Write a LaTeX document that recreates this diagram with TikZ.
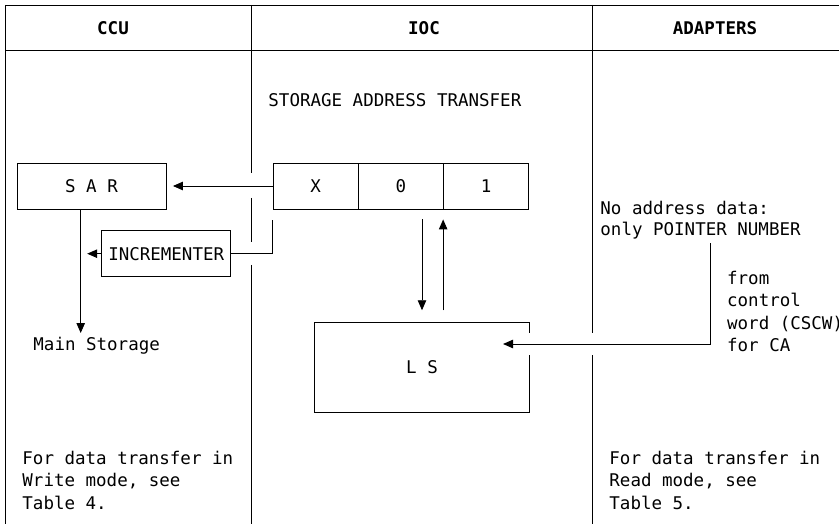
\documentclass[tikz,border=0pt]{standalone}
\usepackage{fontspec}
\setmonofont{DejaVu Sans Mono}
\usetikzlibrary{arrows.meta,calc,positioning}

\tikzset{
  box/.style={draw, inner sep=0pt, minimum height=46pt},
  cell/.style={box, minimum width=85.3pt},
  hdr/.style={font=\ttfamily\bfseries\fontsize{17.5}{21}\selectfont, inner sep=0pt},
  txt/.style={inner sep=0pt, align=left, anchor=west},
  flow/.style={-{Triangle[length=10pt,width=8.5pt]}}
}

\begin{document}
\begin{tikzpicture}
  [x=1pt, y=-1pt, line width=0.9pt,
  font=\ttfamily\fontsize{17.5}{22.5}\selectfont]
  \useasboundingbox (0,0) rectangle (839,524);

  % frame of the table
  \draw (5,5) -- (839,5) (5,50) -- (839,50) (5,5) -- (5,524);
  \draw (251.7,5) -- (251.7,173) (251.7,198) -- (251.7,242) (251.7,265) -- (251.7,524);
  \draw (592.7,5) -- (592.7,333) (592.7,355) -- (592.7,524);

  \node[hdr] (hccu) at (113,28) {CCU};
  \node[hdr] (hioc) at (424,28) {IOC};
  \node[hdr] (hadp) at (715,28) {ADAPTERS};

  \node[txt] (sat) at (268,100) {STORAGE ADDRESS TRANSFER};

  \node[box, minimum width=149pt] (sar) at (91.5,186) {S A R};
  \node[cell] (regx) at (315.65,186) {X};
  \node[cell] (rego) at (400.95,186) {0};
  \node[cell] (regi) at (486.25,186) {1};
  \node[box, minimum width=128.6pt] (incr) at (166.2,253.7) {INCREMENTER};
  \node[inner sep=0pt, minimum width=214pt, minimum height=89pt] (ls) at (422,367.2) {L S};
  \draw ($(ls.north east)+(0,10.3)$) -- (ls.north east) -- (ls.north west)
    -- (ls.south west) -- (ls.south east) -- ($(ls.east)+(0,-12.2)$);

  \node[txt] (ms) at (33,345.5) {Main Storage};
  \node[txt] (noaddr) at (600,220.5) {No address data:\\[-1.5pt]only POINTER NUMBER};
  \node[txt] (from) at (726.7,311.5) {from\\control\\word (CSCW)\\for CA};
  \node[txt] (wnote) at (22,480) {For data transfer in\\Write mode, see\\Table 4.};
  \node[txt] (rnote) at (609,480) {For data transfer in\\Read mode, see\\Table 5.};

  \coordinate (sardown) at ($(sar.south)+(-10.8,0)$);
  \coordinate (mstip) at (80.7,333);
  \coordinate (cscw) at (710,243.3);

  \draw[flow] (regx.west) -- ($(sar.east)+(6.5,0)$);
  \draw ($(regx.south west)+(0,11)$) |- (incr.east);
  \draw[flow] (incr.west) -- ($(incr.west -| sardown)+(6.5,0)$);
  \draw[flow] (sardown) -- (mstip);
  \draw[flow] ($(ls.north |- rego.south)+(0,10)$) -- ($(ls.north)+(0,-12)$);
  \draw[flow] ($(regi.south west |- ls.north)+(0,-12)$) -- ($(regi.south west)+(0,10)$);
  \draw[flow] (cscw) |- ($(ls.east)+(-26.4,-23.2)$);
\end{tikzpicture}
\end{document}
